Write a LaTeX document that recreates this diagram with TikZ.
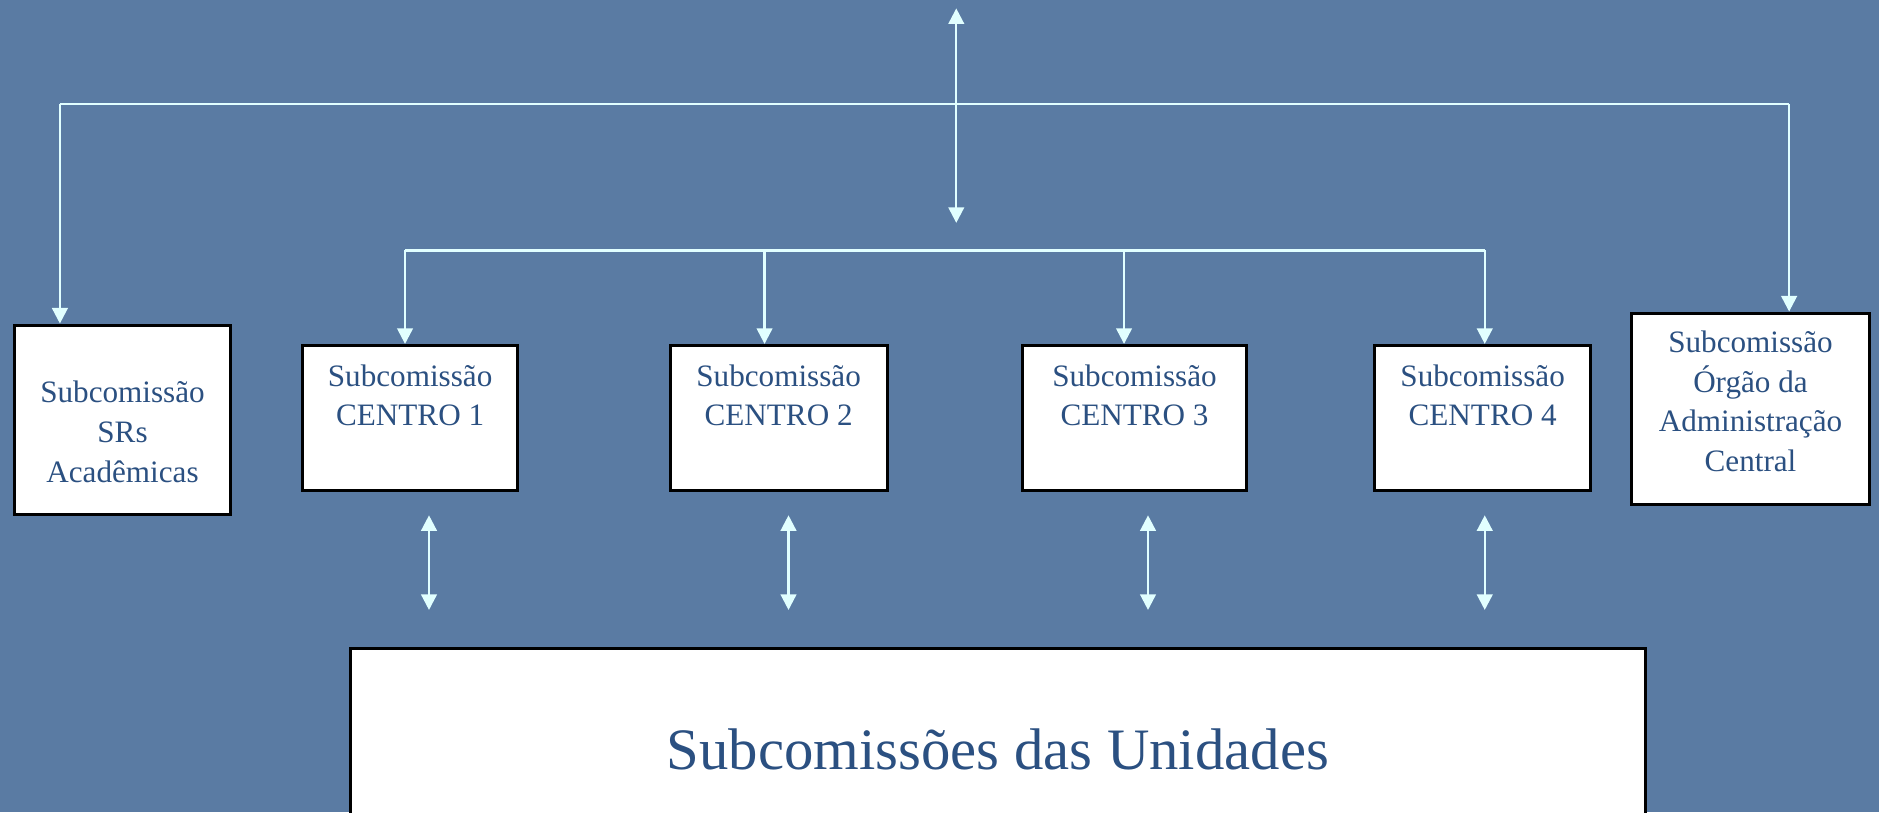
\documentclass[tikz,border=0pt]{standalone}
\usepackage{fontspec}
\setmainfont{Liberation Serif}
\usetikzlibrary{arrows.meta}
\definecolor{bgblue}{RGB}{90,123,163}
\definecolor{txtblue}{RGB}{43,80,129}
\definecolor{linecyan}{RGB}{225,255,255}
\tikzset{
  box/.style={draw=black, line width=2.5pt, fill=white, text=txtblue, align=center,
    inner xsep=0pt, inner ysep=0pt, anchor=north west,
    font=\fontsize{26}{33}\selectfont},
  conn/.style={draw=linecyan, line width=2pt},
  arr/.style={conn, -{Triangle[width=13pt,length=13pt]}},
  darr/.style={conn, {Triangle[width=13pt,length=13pt]}-{Triangle[width=13pt,length=13pt]}}
}
\begin{document}
\begin{tikzpicture}[x=1pt,y=-1pt]
\useasboundingbox (0,0) rectangle (1568,678);
\clip (0,0) rectangle (1568,678);
\fill[bgblue] (0,0) rectangle (1568,678);

% boxes
\node[box, minimum width=180pt, text height=131pt, text depth=27pt] (sr) at (11,270) {Subcomissão\\SRs\\Acadêmicas};
\node[box, minimum width=180pt, text height=67pt, text depth=54pt] (c1) at (251,287) {Subcomissão\\CENTRO 1};
\node[box, minimum width=181pt, text height=67pt, text depth=54pt] (c2) at (558,287) {Subcomissão\\CENTRO 2};
\node[box, minimum width=187pt, text height=67pt, text depth=54pt] (c3) at (852,287) {Subcomissão\\CENTRO 3};
\node[box, minimum width=180pt, text height=67pt, text depth=54pt] (c4) at (1146,287) {Subcomissão\\CENTRO 4};
\node[box, minimum width=199pt, text height=132pt, text depth=28pt] (oac) at (1360,260) {Subcomissão\\Órgão da\\Administração\\Central};
\node[box, minimum width=1081pt, text height=101pt, text depth=80pt, font=\fontsize{49}{55}\selectfont] (uni) at (291,540) {Subcomissões das Unidades};

% top connectors
\coordinate (topT) at (798,7);
\coordinate (topB) at (798,186);
\coordinate (busL) at (50,87);
\coordinate (busR) at (1493,87);
\draw[conn] (busL) -- (busR);
\draw[darr] (topT) -- (topB);
\draw[arr] (busL) -- (sr.north -| busL);
\draw[arr] (busR) -- (oac.north -| busR);

% second bus
\coordinate (b1) at (338,209);
\coordinate (b2) at (638,209);
\coordinate (b3) at (938,209);
\coordinate (b4) at (1239,209);
\draw[conn] (b1) -- (b4);
\draw[arr] (b1) -- (c1.north -| b1);
\draw[arr] (b2) -- (c2.north -| b2);
\draw[arr] (b3) -- (c3.north -| b3);
\draw[arr] (b4) -- (c4.north -| b4);

% lower double arrows
\coordinate (u1t) at (358,430); \coordinate (u1b) at (358,509);
\coordinate (u2t) at (658,430); \coordinate (u2b) at (658,509);
\coordinate (u3t) at (958,430); \coordinate (u3b) at (958,509);
\coordinate (u4t) at (1239,430); \coordinate (u4b) at (1239,509);
\draw[darr] (u1t) -- (u1b);
\draw[darr] (u2t) -- (u2b);
\draw[darr] (u3t) -- (u3b);
\draw[darr] (u4t) -- (u4b);
\end{tikzpicture}
\end{document}
